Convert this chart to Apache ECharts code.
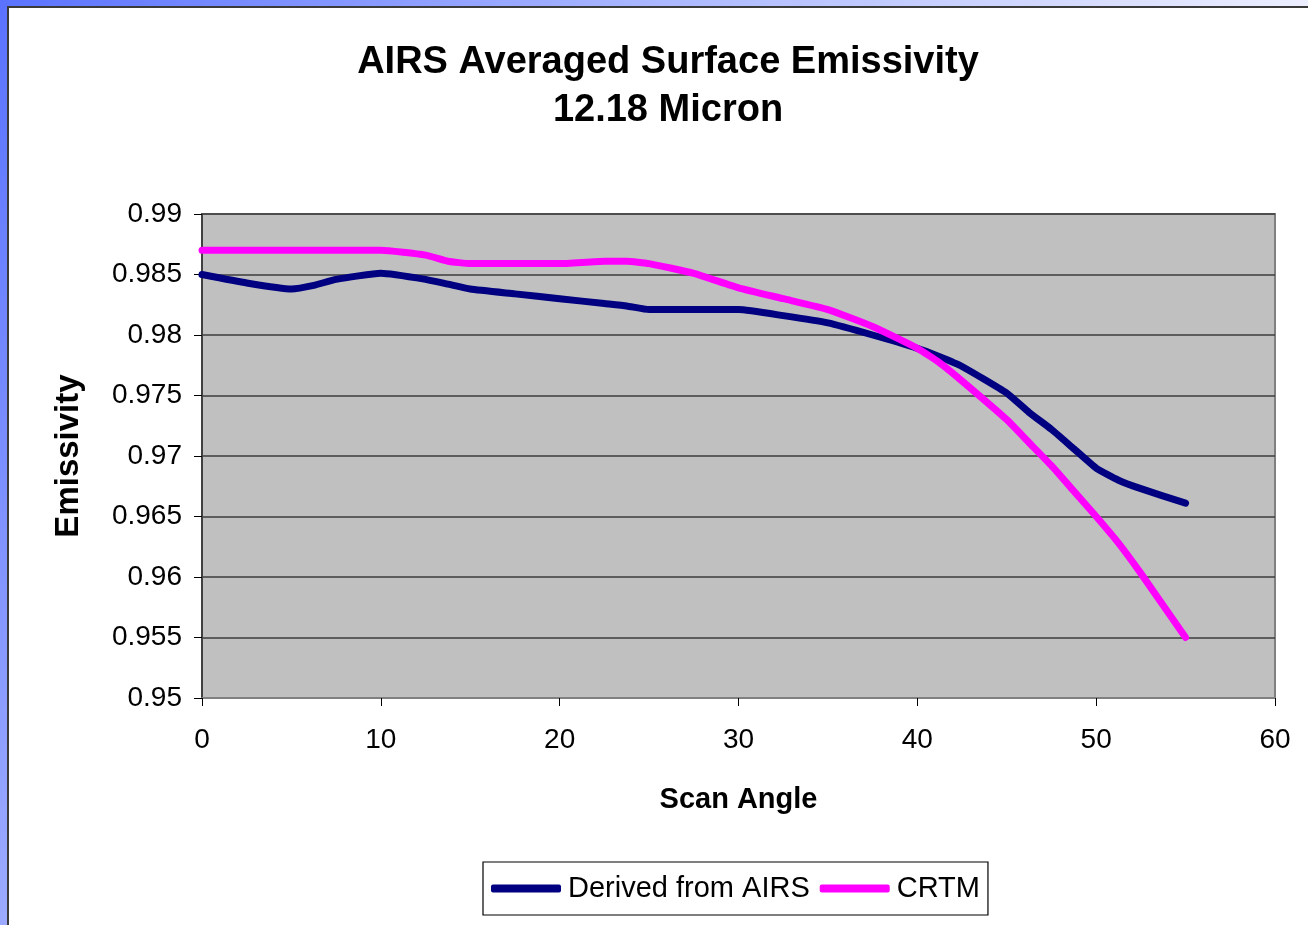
<!DOCTYPE html>
<html>
<head>
<meta charset="utf-8">
<script src="https://cdn.jsdelivr.net/npm/echarts@6/dist/echarts.min.js"></script>
<style>
  html, body { margin: 0; padding: 0; width: 1308px; height: 925px; overflow: hidden; }
  body { background: linear-gradient(120deg, #5a72ff 0%, #a9b6ff 35%, #f4f5ff 75%, #ffffff 100%); position: relative; }
  #frame { position: absolute; left: 7px; top: 6px; width: 1310px; height: 930px; background: #fff;
           border-left: 2px solid #3a3a3a; border-top: 2px solid #3a3a3a; box-sizing: border-box; }
  #main { position: absolute; left: 0; top: 0; width: 1308px; height: 925px; }
</style>
</head>
<body>
<div id="frame"></div>
<div id="main"></div>
<script>
const scanAngle = [0, 2.5, 5, 6.25, 7.5, 10, 12.5, 13.75, 15, 17.5, 20, 22.5, 23.75, 25, 27.5, 30, 32.5, 35, 37.5, 40, 41.25, 42.5, 45, 46.25, 47.5, 48.75, 50, 51.25, 52.5, 55];
const derivedFromAIRS = [0.9850, 0.9843, 0.9838, 0.9841, 0.9846, 0.9851, 0.9846, 0.9842, 0.9838, 0.9834, 0.9830, 0.9826, 0.9824, 0.9821, 0.9821, 0.9821, 0.9816, 0.9810, 0.9800, 0.9789, 0.9782, 0.9774, 0.9752, 0.9736, 0.9722, 0.9706, 0.9690, 0.9680, 0.9673, 0.9661];
const crtm = [0.9870, 0.9870, 0.9870, 0.9870, 0.9870, 0.9870, 0.9866, 0.9861, 0.9859, 0.9859, 0.9859, 0.9861, 0.9861, 0.9859, 0.9851, 0.9839, 0.9830, 0.9821, 0.9807, 0.9789, 0.9777, 0.9762, 0.9730, 0.9711, 0.9692, 0.9671, 0.9650, 0.9628, 0.9603, 0.9550];
const titleLines = ['AIRS Averaged Surface Emissivity', '12.18 Micron'];
const seriesNames = ['Derived from AIRS', 'CRTM'];

const font = '"Liberation Sans", Arial, sans-serif';
const chart = echarts.init(document.getElementById('main'), null, { renderer: 'canvas' });
const pair = (xs, ys) => xs.map((x, i) => [x, ys[i]]);

chart.setOption({
  backgroundColor: 'transparent',
  animation: false,
  graphic: [
    { type: 'text', x: 668, y: 39, z: 10,
      style: { text: titleLines.join('\n'), font: 'bold 38px ' + font, fill: '#000', lineHeight: 48,
               align: 'center', textAlign: 'center' } }
  ],
  grid: { left: 202, top: 214, right: 33, bottom: 227, show: true, backgroundColor: '#c0c0c0', borderColor: '#808080', borderWidth: 2 },
  xAxis: {
    type: 'value', min: 0, max: 60, interval: 10,
    name: 'Scan Angle', nameLocation: 'middle', nameGap: 87,
    nameTextStyle: { fontFamily: font, fontSize: 29, fontWeight: 'bold', color: '#000' },
    axisLine: { show: true, onZero: false, lineStyle: { color: '#808080', width: 2 } },
    axisTick: { show: true, length: 8, lineStyle: { color: '#000', width: 1 } },
    axisLabel: { fontFamily: font, fontSize: 28, color: '#000', margin: 28 },
    splitLine: { show: false }
  },
  yAxis: {
    type: 'value', min: 0.95, max: 0.99, interval: 0.005,
    name: 'Emissivity', nameLocation: 'middle', nameGap: 117, nameRotate: 90,
    nameTextStyle: { fontFamily: font, fontSize: 33, fontWeight: 'bold', color: '#000' },
    axisLine: { show: true, lineStyle: { color: '#404040', width: 2 } },
    axisTick: { show: true, length: 8, lineStyle: { color: '#000', width: 1 } },
    axisLabel: { fontFamily: font, fontSize: 28, color: '#000', margin: 20,
                 formatter: v => String(parseFloat(v.toFixed(3))) },
    splitLine: { show: true, lineStyle: { color: '#3c3c3c', width: 1.5 } }
  },
  legend: {
    data: seriesNames, left: 483, top: 862, orient: 'horizontal',
    borderColor: '#000', borderWidth: 1.2, padding: [12, 8, 12, 8], itemGap: 10,
    itemWidth: 70, itemHeight: 8, icon: 'roundRect',
    textStyle: { fontFamily: font, fontSize: 29, color: '#000', padding: [0, 0, 0, 2] },
    backgroundColor: '#fff'
  },
  series: [
    { name: seriesNames[0], type: 'line', data: pair(scanAngle, derivedFromAIRS), showSymbol: false,
      smooth: 0.15, lineStyle: { color: '#000080', width: 7, cap: 'round', join: 'round' }, itemStyle: { color: '#000080' } },
    { name: seriesNames[1], type: 'line', data: pair(scanAngle, crtm), showSymbol: false,
      smooth: 0.15, lineStyle: { color: '#ff00ff', width: 7, cap: 'round', join: 'round' }, itemStyle: { color: '#ff00ff' } }
  ]
});
</script>
</body>
</html>
